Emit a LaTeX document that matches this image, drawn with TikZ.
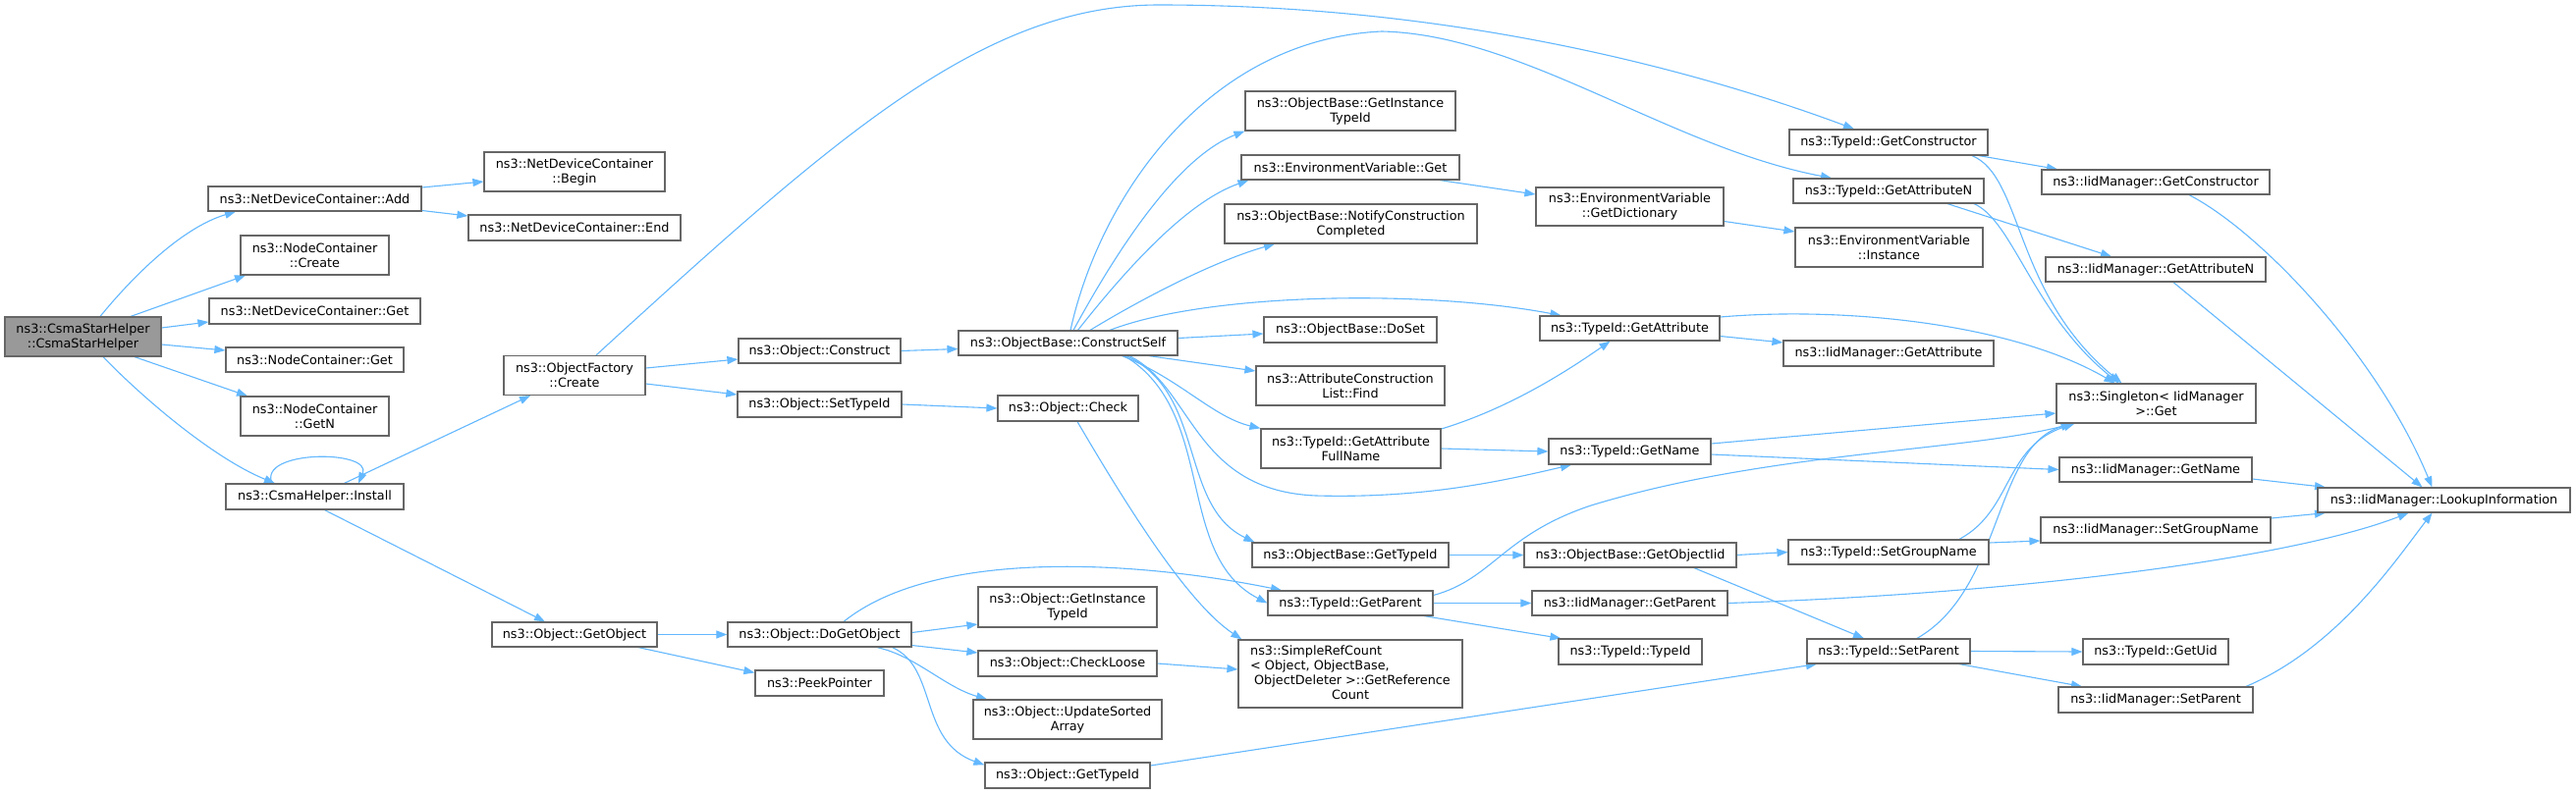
\documentclass[tikz,border=0pt]{standalone}
\usepackage{fontspec}
\newfontfamily\dvs{DejaVu Sans}
\usetikzlibrary{arrows.meta}
\definecolor{edgeblue}{HTML}{63B8FF}
\definecolor{boxgray}{HTML}{666666}
\definecolor{rootfill}{HTML}{999999}
\pgfdeclarelayer{bg}
\pgfdeclarelayer{bgfill}
\pgfsetlayers{bgfill,bg,main}
\newcommand{\nodefont}{\dvs\fontsize{12.8pt}{15pt}\selectfont}
\begin{document}
\begin{tikzpicture}[x=1pt,y=-1pt,
  boxbase/.style={draw=boxgray,line width=1.2pt,fill=white,inner sep=0pt,font=\nodefont},
  box/.style={boxbase,align=center},
  conn/.style={draw=edgeblue,line width=1.1pt,-{Triangle[length=11pt,width=8pt]}}]
\begin{pgfonlayer}{bgfill}
\fill[white] (0,0) rectangle (2623,809);
\end{pgfonlayer}
\useasboundingbox (0,0) rectangle (2623,809);
% column 1
\node[box,fill=rootfill,minimum width=159pt,minimum height=40pt] (root) at (84.5,343) {ns3::CsmaStarHelper\\::CsmaStarHelper};
% column 2
\node[box,minimum width=217pt,minimum height=25pt] (add) at (320.5,202.5) {ns3::NetDeviceContainer::Add};
\node[box,minimum width=151pt,minimum height=40pt] (create) at (320.5,260) {ns3::NodeContainer\\::Create};
\node[box,minimum width=215pt,minimum height=26pt] (ndcget) at (320.5,317) {ns3::NetDeviceContainer::Get};
\node[box,minimum width=181pt,minimum height=25pt] (ncget) at (320.5,366.5) {ns3::NodeContainer::Get};
\node[box,minimum width=151pt,minimum height=40pt] (getn) at (320.5,424) {ns3::NodeContainer\\::GetN};
\node[box,minimum width=181pt,minimum height=26pt] (install) at (320.5,506) {ns3::CsmaHelper::Install};
% column 3
\node[box,minimum width=184pt,minimum height=40pt] (begin) at (585,175) {ns3::NetDeviceContainer\\::Begin};
\node[box,minimum width=216pt,minimum height=26pt] (ndcend) at (585,232) {ns3::NetDeviceContainer::End};
\node[box,minimum width=144pt,minimum height=40pt] (ofcreate) at (585,382.5) {ns3::ObjectFactory\\::Create};
\node[box,minimum width=168pt,minimum height=25pt] (getobject) at (585,646.5) {ns3::Object::GetObject};
% column 4
\node[box,minimum width=165pt,minimum height=25pt] (construct) at (834.5,357.5) {ns3::Object::Construct};
\node[box,minimum width=167pt,minimum height=26pt] (settypeid) at (834.5,412) {ns3::Object::SetTypeId};
\node[box,minimum width=187pt,minimum height=25pt] (dogetobject) at (834.5,646.5) {ns3::Object::DoGetObject};
\node[box,minimum width=131pt,minimum height=26pt] (peek) at (834.5,696) {ns3::PeekPointer};
% column 5
\node[box,minimum width=223pt,minimum height=25pt] (cself) at (1087.5,349.5) {ns3::ObjectBase::ConstructSelf};
\node[box,minimum width=143pt,minimum height=26pt] (check) at (1087.5,416) {ns3::Object::Check};
\node[box,minimum width=182pt,minimum height=41pt] (ogetinst) at (1087,618.5) {ns3::Object::GetInstance\\TypeId};
\node[box,minimum width=182pt,minimum height=26pt] (checkloose) at (1087,676) {ns3::Object::CheckLoose};
\node[box,minimum width=192pt,minimum height=40pt] (updsorted) at (1087,733) {ns3::Object::UpdateSorted\\Array};
\node[box,minimum width=168pt,minimum height=26pt] (ogettypeid) at (1087,790) {ns3::Object::GetTypeId};
% column 6
\node[box,minimum width=214pt,minimum height=40pt] (obgetinst) at (1375,113) {ns3::ObjectBase::GetInstance\\TypeId};
\node[box,minimum width=222pt,minimum height=25pt] (envget) at (1375,170.5) {ns3::EnvironmentVariable::Get};
\node[box,minimum width=257pt,minimum height=40pt] (notify) at (1375.5,228) {ns3::ObjectBase::NotifyConstruction\\Completed};
\node[box,minimum width=176pt,minimum height=26pt] (doset) at (1375,336) {ns3::ObjectBase::DoSet};
\node[box,minimum width=192pt,minimum height=40pt] (acfind) at (1375,393) {ns3::AttributeConstruction\\List::Find};
\node[box,minimum width=183pt,minimum height=40pt] (fullname) at (1375.5,457) {ns3::TypeId::GetAttribute\\FullName};
\node[box,minimum width=200pt,minimum height=25pt] (obgettypeid) at (1375,565.5) {ns3::ObjectBase::GetTypeId};
\node[box,minimum width=168pt,minimum height=25pt] (tgetparent) at (1375,614.5) {ns3::TypeId::GetParent};
\node[boxbase,minimum width=228pt,minimum height=69pt] (simpleref) at (1375,686.5) {\begin{tabular}{@{}l@{}}ns3::SimpleRefCount\\< Object, ObjectBase,\\\hspace*{4pt}ObjectDeleter >::GetReference\\\multicolumn{1}{@{}c@{}}{Count}\end{tabular}};
% column 7
\node[box,minimum width=191pt,minimum height=39pt] (getdict) at (1659.5,210.5) {ns3::EnvironmentVariable\\::GetDictionary};
\node[box,minimum width=183pt,minimum height=25pt] (tgetattr) at (1659.5,334.5) {ns3::TypeId::GetAttribute};
\node[box,minimum width=165pt,minimum height=26pt] (tgetname) at (1659.5,460) {ns3::TypeId::GetName};
\node[box,minimum width=216pt,minimum height=25pt] (getobjiid) at (1660,565.5) {ns3::ObjectBase::GetObjectIid};
\node[box,minimum width=199pt,minimum height=25pt] (igetparent) at (1659.5,614.5) {ns3::IidManager::GetParent};
\node[box,minimum width=146pt,minimum height=26pt] (ttypeid) at (1660,664) {ns3::TypeId::TypeId};
% column 8
\node[box,minimum width=202pt,minimum height=26pt] (tgetctor) at (1923,145) {ns3::TypeId::GetConstructor};
\node[box,minimum width=194pt,minimum height=25pt] (tgetattrn) at (1923,194.5) {ns3::TypeId::GetAttributeN};
\node[box,minimum width=191pt,minimum height=40pt] (envinst) at (1923.5,252) {ns3::EnvironmentVariable\\::Instance};
\node[box,minimum width=214pt,minimum height=26pt] (igetattr) at (1923,360) {ns3::IidManager::GetAttribute};
\node[box,minimum width=204pt,minimum height=25pt] (tsetgroup) at (1923,562.5) {ns3::TypeId::SetGroupName};
\node[box,minimum width=166pt,minimum height=25pt] (tsetparent) at (1923,663.5) {ns3::TypeId::SetParent};
% column 9
\node[box,minimum width=232pt,minimum height=25pt] (igetctor) at (2195,185.5) {ns3::IidManager::GetConstructor};
\node[box,minimum width=224pt,minimum height=25pt] (igetattrn) at (2195,274.5) {ns3::IidManager::GetAttributeN};
\node[box,minimum width=203pt,minimum height=40pt] (singleton) at (2195.5,411) {ns3::Singleton< IidManager\\>::Get};
\node[box,minimum width=196pt,minimum height=25pt] (igetname) at (2195,478.5) {ns3::IidManager::GetName};
\node[box,minimum width=234pt,minimum height=26pt] (isetgroup) at (2195,540) {ns3::IidManager::SetGroupName};
\node[box,minimum width=148pt,minimum height=26pt] (tgetuid) at (2195,664) {ns3::TypeId::GetUid};
\node[box,minimum width=198pt,minimum height=26pt] (isetparent) at (2195,713) {ns3::IidManager::SetParent};
% column 10
\node[box,minimum width=257pt,minimum height=25pt] (lookup) at (2488.5,509.5) {ns3::IidManager::LookupInformation};

\begin{pgfonlayer}{bg}
\draw[conn] ([xshift=17.5pt]root.north) .. controls (135,282) and (185,232) .. ([xshift=-80.5pt]add.south);
\draw[conn] ([xshift=48.5pt]root.north) -- ([xshift=-70.5pt]create.south);
\draw[conn] ([yshift=9pt]root.east) -- ([yshift=-11pt]ndcget.west);
\draw[conn] ([yshift=-8pt]root.east) -- ([yshift=9.5pt]ncget.west);
\draw[conn] ([xshift=52.5pt]root.south) -- ([xshift=-68.5pt]getn.north);
\draw[conn] ([xshift=20.5pt]root.south) .. controls (150,410) and (220,468) .. ([xshift=-40.5pt]install.north);
\draw[conn] ([yshift=11.5pt]add.east) -- ([yshift=-10pt]begin.west);
\draw[conn] ([yshift=-12pt]add.east) -- ([yshift=12pt]ndcend.west);
\draw[conn] ([xshift=-43.5pt]install.north) .. controls (262,458) and (380,458) .. ([xshift=44.5pt]install.north);
\draw[conn] ([xshift=30pt]install.north) -- ([xshift=-45pt]ofcreate.south);
\draw[conn] ([xshift=10pt]install.south) -- ([xshift=-30pt]getobject.north);
\draw[conn] ([yshift=7.5pt]ofcreate.east) -- ([yshift=-8.5pt]construct.west);
\draw[conn] ([yshift=-8.5pt]ofcreate.east) -- ([yshift=10pt]settypeid.west);
\draw[conn] ([xshift=22pt]ofcreate.north) .. controls (850,140) and (1000,5) .. (1180,5) .. controls (1500,5) and (1750,80) .. ([xshift=-35pt]tgetctor.north);
\draw[conn] (construct.east) -- ([yshift=-6pt]cself.west);
\draw[conn] (settypeid.east) -- (check.west);
\draw[conn] ([xshift=9.5pt]check.south) .. controls (1150,520) and (1210,615) .. ([xshift=4pt]simpleref.north west);
\draw[conn] (getobject.east) -- (dogetobject.west);
\draw[conn] ([xshift=65pt]getobject.south) -- ([yshift=-3pt]peek.north west);
\draw[conn] ([yshift=2pt]dogetobject.east) -- ([yshift=-17.5pt]ogetinst.west);
\draw[conn] ([yshift=-11pt]dogetobject.east) -- ([yshift=11pt]checkloose.west);
\draw[conn] ([xshift=58.5pt]dogetobject.south) .. controls (932,668) and (962,700) .. ([xshift=-82pt]updsorted.north);
\draw[conn] ([xshift=74pt]dogetobject.south) .. controls (955,680) and (935,755) .. ([yshift=-3pt]ogettypeid.north west);
\draw[conn] ([xshift=24.5pt]dogetobject.north) .. controls (950,560) and (1150,570) .. ([xshift=-70pt]tgetparent.north);
\draw[conn] (checkloose.east) -- ([yshift=4.5pt]simpleref.west);
\draw[conn] ([yshift=10pt]ogettypeid.east) -- ([xshift=-73pt]tsetparent.south);
\draw[conn] ([xshift=2.5pt]cself.north) .. controls (1120,200) and (1230,40) .. (1407,32) .. controls (1550,35) and (1700,150) .. ([xshift=-58pt]tgetattrn.north);
\draw[conn] ([xshift=5.5pt]cself.north) .. controls (1140,250) and (1200,160) .. (obgetinst.south west);
\draw[conn] ([xshift=10pt]cself.north) .. controls (1150,270) and (1210,205) .. ([xshift=8pt]envget.south west);
\draw[conn] ([xshift=22.5pt]cself.north) .. controls (1170,300) and (1240,265) .. ([xshift=-77.5pt]notify.south);
\draw[conn] ([xshift=42.5pt]cself.north) .. controls (1230,298) and (1450,295) .. ([xshift=-70pt]tgetattr.north);
\draw[conn] ([yshift=5pt]cself.east) -- ([yshift=-4pt]doset.west);
\draw[conn] ([xshift=82.5pt]cself.south) -- ([yshift=15pt]acfind.west);
\draw[conn] ([xshift=55pt]cself.south) .. controls (1200,385) and (1235,425) .. (fullname.north west);
\draw[conn] ([xshift=62.5pt]cself.south) .. controls (1215,395) and (1215,500) .. (1340,505) .. controls (1450,508) and (1530,490) .. ([xshift=-59.5pt]tgetname.south);
\draw[conn] ([xshift=59.5pt]cself.south) .. controls (1228,400) and (1200,515) .. ([xshift=3pt]obgettypeid.north west);
\draw[conn] ([xshift=57.5pt]cself.south) .. controls (1240,420) and (1195,565) .. (tgetparent.west);
\draw[conn] ([xshift=91pt]envget.south) -- ([yshift=12.5pt]getdict.west);
\draw[conn] ([yshift=-15pt]getdict.east) -- ([yshift=16pt]envinst.west);
\draw[conn] ([xshift=92pt]tgetctor.south) -- ([xshift=-100pt]igetctor.north);
\draw[conn] ([xshift=85pt]tgetctor.south) .. controls (2060,180) and (2050,300) .. ([xshift=-35pt]singleton.north);
\draw[conn] ([xshift=60pt]tgetattrn.south) -- ([xshift=-45pt]igetattrn.north);
\draw[conn] ([xshift=87pt]tgetattrn.south) .. controls (2050,225) and (2070,320) .. ([xshift=-38pt]singleton.north);
\draw[conn] ([yshift=-8pt]tgetattr.east) -- ([yshift=11pt]igetattr.west);
\draw[conn] ([yshift=11.5pt]tgetattr.east) .. controls (1880,312) and (2050,330) .. ([xshift=-42pt]singleton.north);
\draw[conn] ([yshift=20pt]fullname.east) .. controls (1540,415) and (1600,375) .. ([xshift=-20pt]tgetattr.south);
\draw[conn] (fullname.east) -- (tgetname.west);
\draw[conn] ([yshift=8pt]tgetname.east) -- ([yshift=-10pt]singleton.west);
\draw[conn] ([yshift=-3pt]tgetname.east) -- (igetname.west);
\draw[conn] (obgettypeid.east) -- (getobjiid.west);
\draw[conn] (getobjiid.east) -- (tsetgroup.west);
\draw[conn] ([xshift=65pt]getobjiid.south) -- ([xshift=-25pt]tsetparent.north);
\draw[conn] ([yshift=8pt]tgetparent.east) .. controls (1520,590) and (1530,545) .. (1620,515) .. controls (1800,460) and (2000,460) .. ([xshift=-85pt]singleton.south);
\draw[conn] (tgetparent.east) -- (igetparent.west);
\draw[conn] ([xshift=75pt]tgetparent.south) -- ([xshift=3pt]ttypeid.north west);
\draw[conn] (igetparent.east) .. controls (2050,605) and (2330,570) .. ([xshift=-36pt]lookup.south);
\draw[conn] ([xshift=72pt]tsetgroup.north) .. controls (2050,520) and (2040,455) .. ([xshift=-83pt]singleton.south);
\draw[conn] ([yshift=9.5pt]tsetgroup.east) -- ([yshift=-11pt]isetgroup.west);
\draw[conn] ([xshift=29pt]tsetparent.north) .. controls (2040,600) and (2030,455) .. ([xshift=-86pt]singleton.south);
\draw[conn] (tsetparent.east) -- (tgetuid.west);
\draw[conn] ([xshift=72pt]tsetparent.south) -- ([xshift=-75pt]isetparent.north);
\draw[conn] ([xshift=34pt]igetctor.south) .. controls (2300,235) and (2420,360) .. ([xshift=-12pt]lookup.north);
\draw[conn] ([xshift=18pt]igetattrn.south) -- ([xshift=-22pt]lookup.north);
\draw[conn] ([yshift=-9.5pt]igetname.east) -- ([xshift=-120.5pt]lookup.north);
\draw[conn] ([yshift=12pt]isetgroup.east) -- ([xshift=-120.5pt]lookup.south);
\draw[conn] ([xshift=92pt]isetparent.north) .. controls (2380,660) and (2440,570) .. ([xshift=-12pt]lookup.south);
\end{pgfonlayer}
\end{tikzpicture}
\end{document}
